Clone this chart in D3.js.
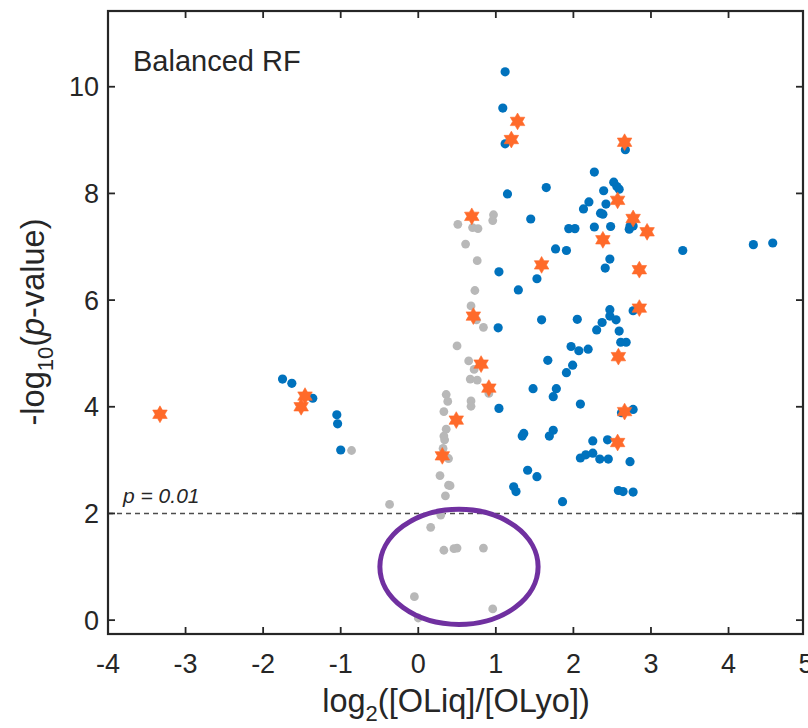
<!DOCTYPE html>
<html>
<head>
<meta charset="utf-8">
<script src="https://cdn.jsdelivr.net/npm/d3@7"></script>
<style>
  html, body { margin: 0; padding: 0; background: #fff; }
  svg { display: block; }
</style>
</head>
<body>
<svg id="chart" width="808" height="728"></svg>
<script>
// ---------- data ----------
const xTicks = [-4, -3, -2, -1, 0, 1, 2, 3, 4, 5];
const yTicks = [0, 2, 4, 6, 8, 10];
const thresholdY = 2; // -log10(0.01)

// grey: not significant / not selected
const grayPts = [
  [-0.86,3.18],[-0.37,2.17],[0.16,1.74],[0.33,1.31],[-0.05,0.44],[0.29,1.97],
  [0.35,2.33],[0.39,2.53],[0.00,0.04],[0.50,5.14],[0.65,4.86],[0.72,4.70],
  [0.67,4.52],[0.76,4.50],[0.91,4.25],[0.36,4.23],[0.38,4.10],[0.68,4.11],
  [0.68,4.01],[0.33,3.91],[0.36,3.58],[0.33,3.45],[0.34,3.38],[0.32,3.22],
  [0.39,3.03],[0.28,2.71],[0.50,1.35],[0.46,1.34],[0.84,1.35],[0.96,0.21],
  [0.97,7.60],[0.96,7.49],[0.51,7.42],[0.70,7.36],[0.77,7.34],[0.61,7.05],
  [0.76,6.74],[0.73,6.18],[0.68,5.89],[0.75,5.63],[0.84,5.49],[0.41,2.52]
];

// blue: significant
const bluePts = [
  [-1.75,4.52],[-1.63,4.44],[-1.36,4.16],[-1.05,3.85],[-1.04,3.68],[-1.00,3.19],
  [1.12,10.28],[1.09,9.60],[1.12,8.93],[1.15,7.99],[1.65,8.11],[1.45,7.52],
  [1.94,7.34],[2.02,7.34],[1.77,6.96],[1.91,6.93],[1.53,6.40],[1.04,6.53],
  [1.29,6.19],[1.03,5.48],[1.59,5.63],[2.05,5.64],
  [2.67,8.82],[2.27,8.40],[2.52,8.21],[2.56,8.13],[2.59,8.08],[2.39,8.05],
  [2.20,7.84],[2.13,7.71],[2.42,7.80],[2.35,7.63],[2.38,7.61],[2.73,7.39],
  [2.72,7.33],[2.77,7.39],[2.27,7.37],[2.48,7.38],[3.41,6.93],[2.47,6.77],
  [2.41,6.60],[2.77,5.80],[2.47,5.82],[2.47,5.70],[2.55,5.63],[2.37,5.58],
  [2.30,5.44],[2.59,5.42],[2.61,5.21],[2.68,5.21],[2.19,5.08],[2.77,3.95],
  [2.62,3.89],[2.25,3.36],[2.44,3.38],[2.09,3.04],[2.16,3.10],[2.25,3.13],
  [2.34,3.02],[2.45,3.02],[2.73,2.97],[2.58,2.43],[2.64,2.41],[2.77,2.40],
  [4.32,7.04],[4.57,7.07],
  [1.04,3.97],[1.67,4.87],[1.97,5.13],[2.07,5.05],[1.99,4.78],[1.91,4.64],
  [1.48,4.34],[1.78,4.34],[1.74,4.19],[1.36,3.50],[1.34,3.45],[1.74,3.56],
  [1.69,3.45],[1.41,2.81],[1.53,2.69],[1.23,2.50],[1.26,2.41],[1.86,2.22],
  [2.09,4.05]
];

// orange hexagrams: selected features
const starPts = [
  [-3.33,3.86],[-1.46,4.20],[-1.51,4.00],[1.28,9.35],[1.20,9.01],[0.69,7.57],
  [1.59,6.66],[0.71,5.70],[0.81,4.80],[0.91,4.35],[0.49,3.75],[0.31,3.08],
  [2.66,8.96],[2.57,7.87],[2.77,7.53],[2.95,7.28],[2.38,7.13],[2.85,6.57],
  [2.85,5.85],[2.58,4.94],[2.66,3.91],[2.57,3.33]
];

// highlight ellipse (data units): centre x, centre y, radius x, radius y
const ellipseSpec = [0.525, 1.0, 1.02, 1.08];

(function draw() {
// ---------- layout ----------
const pL = 108, pR = 803, pT = 11, pB = 634;
const ink = "#262626";
const fontFam = "'Liberation Sans', Arial, Helvetica, sans-serif";

const svg = d3.select("#chart");
const x = d3.scaleLinear().domain([-4, 4.96]).range([pL, pR]);
const y = d3.scaleLinear().domain([-0.26, 11.42]).range([pB, pT]);

svg.append("defs").append("clipPath").attr("id", "plotclip")
  .append("rect").attr("x", pL).attr("y", pT)
  .attr("width", pR - pL).attr("height", pB - pT);

const plot = svg.append("g").attr("clip-path", "url(#plotclip)");

// threshold line
plot.append("line")
  .attr("x1", pL).attr("x2", pR)
  .attr("y1", y(thresholdY)).attr("y2", y(thresholdY))
  .attr("stroke", "#4d4d4d").attr("stroke-width", 1.6)
  .attr("stroke-dasharray", "5,4");

// grey points
plot.append("g").selectAll("circle").data(grayPts).join("circle")
  .attr("cx", d => x(d[0])).attr("cy", d => y(d[1])).attr("r", 4.4)
  .attr("fill", "#b8b8b8");

// blue points
plot.append("g").selectAll("circle").data(bluePts).join("circle")
  .attr("cx", d => x(d[0])).attr("cy", d => y(d[1])).attr("r", 4.6)
  .attr("fill", "#0072BD");

// hexagram path
function hexagram(R) {
  const r = R / Math.sqrt(3);
  const pts = [];
  for (let i = 0; i < 12; i++) {
    const a = -Math.PI / 2 + i * Math.PI / 6;
    const rad = i % 2 === 0 ? R : r;
    pts.push([rad * Math.cos(a), rad * Math.sin(a)]);
  }
  return d3.line()(pts) + "Z";
}
const starPath = hexagram(8.4);
plot.append("g").selectAll("path").data(starPts).join("path")
  .attr("d", starPath)
  .attr("transform", d => `translate(${x(d[0])},${y(d[1])})`)
  .attr("fill", "#FF6A2A").attr("stroke", "#FF6A2A").attr("stroke-width", 0.6)
  .attr("stroke-linejoin", "round");

// ellipse annotation
svg.append("ellipse")
  .attr("cx", x(ellipseSpec[0])).attr("cy", y(ellipseSpec[1]))
  .attr("rx", x(ellipseSpec[0] + ellipseSpec[2]) - x(ellipseSpec[0]))
  .attr("ry", y(ellipseSpec[1]) - y(ellipseSpec[1] + ellipseSpec[3]))
  .attr("fill", "none").attr("stroke", "#7030A0").attr("stroke-width", 5);

// ---------- axes ----------
const tickLen = 7;
const axes = svg.append("g").attr("stroke", ink).attr("stroke-width", 1.8);
const xIn = xTicks.filter(v => x(v) > pL + 1 && x(v) < pR - 1);
const yIn = yTicks.filter(v => y(v) > pT + 1 && y(v) < pB - 1);
axes.selectAll("line.xb").data(xIn).join("line").attr("class", "xb")
  .attr("x1", d => x(d)).attr("x2", d => x(d))
  .attr("y1", pB).attr("y2", pB - tickLen);
axes.selectAll("line.xt").data(xIn).join("line").attr("class", "xt")
  .attr("x1", d => x(d)).attr("x2", d => x(d))
  .attr("y1", pT).attr("y2", pT + tickLen);
axes.selectAll("line.yl").data(yIn).join("line").attr("class", "yl")
  .attr("x1", pL).attr("x2", pL + tickLen)
  .attr("y1", d => y(d)).attr("y2", d => y(d));
axes.selectAll("line.yr").data(yIn).join("line").attr("class", "yr")
  .attr("x1", pR).attr("x2", pR - tickLen)
  .attr("y1", d => y(d)).attr("y2", d => y(d));
svg.append("rect").attr("x", pL).attr("y", pT)
  .attr("width", pR - pL).attr("height", pB - pT)
  .attr("fill", "none").attr("stroke", ink).attr("stroke-width", 2.2);

// tick labels
svg.append("g").selectAll("text").data(xTicks).join("text")
  .attr("x", d => x(d)).attr("y", 673)
  .attr("text-anchor", "middle")
  .attr("font-family", fontFam).attr("font-size", 27).attr("fill", ink)
  .text(d => d);
svg.append("g").selectAll("text").data(yTicks).join("text")
  .attr("x", 99).attr("y", d => y(d)).attr("dy", "0.36em")
  .attr("text-anchor", "end")
  .attr("font-family", fontFam).attr("font-size", 27).attr("fill", ink)
  .text(d => d);

// axis labels
const xl = svg.append("text")
  .attr("x", 456).attr("y", 712).attr("text-anchor", "middle")
  .attr("font-family", fontFam).attr("font-size", 32.5).attr("fill", ink);
xl.append("tspan").text("log");
xl.append("tspan").attr("dy", 9).attr("font-size", 22).text("2");
xl.append("tspan").attr("dy", -9).text("([OLiq]/[OLyo])");

const yl = svg.append("text")
  .attr("transform", "translate(44,322) rotate(-90)")
  .attr("text-anchor", "middle")
  .attr("font-family", fontFam).attr("font-size", 32.5).attr("fill", ink);
yl.append("tspan").text("-log");
yl.append("tspan").attr("dy", 9).attr("font-size", 22).text("10");
yl.append("tspan").attr("dy", -9).text("(");
yl.append("tspan").attr("font-style", "italic").text("p");
yl.append("tspan").text("-value)");

// annotations
svg.append("text").attr("x", 133).attr("y", 71)
  .attr("font-family", fontFam).attr("font-size", 29).attr("fill", ink)
  .text("Balanced RF");
svg.append("text").attr("x", 123).attr("y", 503)
  .attr("font-family", fontFam).attr("font-size", 21).attr("font-style", "italic")
  .attr("fill", ink)
  .text("p = 0.01");
})();
</script>
</body>
</html>
